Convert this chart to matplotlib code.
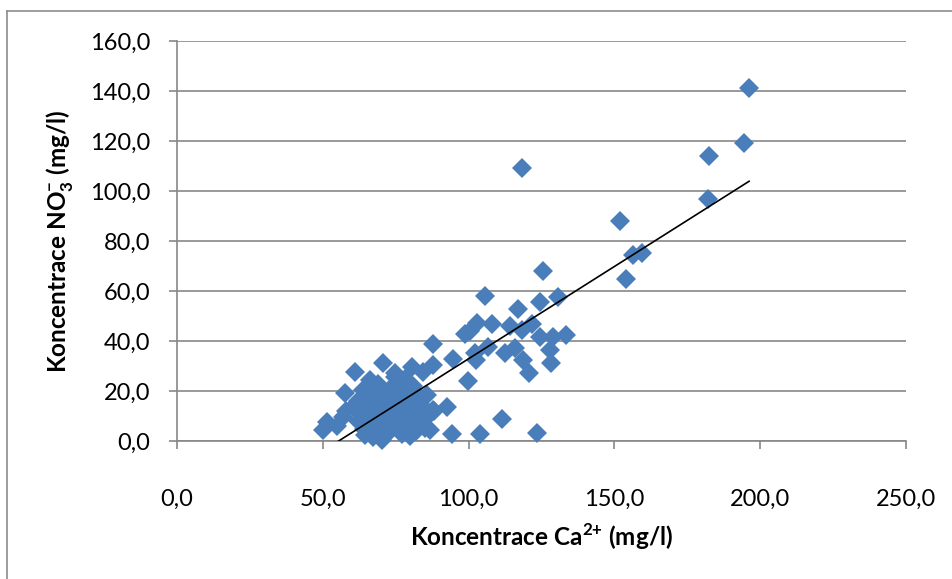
import numpy as np
import matplotlib
matplotlib.use("Agg")
import matplotlib.pyplot as plt
from matplotlib.lines import Line2D
from matplotlib.ticker import FuncFormatter, MultipleLocator

# Ca2+ vs NO3- concentrations (mg/l)
ca_high = [196.2, 194.4, 182.4, 182.1, 151.9, 156.4, 159.5, 154.0, 118.3]
no3_high = [141.2, 119.2, 114.0, 96.8, 88.0, 74.4, 75.2, 64.8, 109.4]

ca_mid = [125.5, 105.6, 130.7, 124.5, 117.0, 102.9, 108.0, 114.2, 121.7, 118.3,
          98.8, 100.5, 124.5, 128.9, 133.4, 87.8, 106.6, 102.2, 112.5, 115.9,
          127.9, 94.7, 118.7, 128.3, 102.5, 120.7, 99.8, 87.8, 80.6, 111.5,
          92.6, 94.3, 103.9, 123.5, 87.8, 85.0, 83.3]
no3_mid = [68.0, 58.0, 57.8, 55.8, 53.0, 47.4, 47.0, 46.2, 47.0, 44.6,
           43.0, 44.0, 41.8, 41.8, 42.6, 39.0, 37.8, 35.4, 35.4, 37.4,
           36.6, 33.0, 32.6, 31.4, 32.6, 27.4, 24.2, 30.6, 29.8, 9.0,
           13.8, 3.0, 3.0, 3.4, 12.6, 5.4, 17.8]

ca_low = [61.0, 70.6, 57.6, 51.4, 50.0, 74.8, 66.2, 70.3, 67.2, 64.5,
          57.0, 60.4, 63.8, 74.8, 78.2, 84.4, 84.4, 86.8, 79.9, 76.5,
          81.6, 85.7, 82.3, 55.0, 58.0, 62.0, 62.0, 63.0, 64.0, 65.0,
          65.0, 66.0, 67.0, 67.0, 68.0, 68.0, 69.0, 69.0, 70.0, 70.0,
          71.0, 71.0, 72.0, 72.0, 73.0, 73.0, 74.0, 75.0, 75.0, 76.0,
          77.0, 77.0, 78.0, 78.0, 79.0, 80.0, 80.0, 81.0, 82.0, 83.0,
          83.0, 84.0, 86.0, 88.0]
no3_low = [27.6, 31.2, 19.4, 7.8, 4.6, 27.4, 24.6, 0.6, 1.8, 2.6,
           9.8, 13.8, 20.4, 25.8, 24.8, 27.8, 12.6, 4.6, 2.0, 7.4,
           9.8, 18.6, 16.6, 6.0, 12.0, 8.0, 16.0, 11.0, 5.0, 18.0,
           14.0, 9.0, 21.0, 6.0, 13.0, 17.0, 4.0, 23.0, 10.0, 15.0,
           19.0, 2.0, 7.0, 12.0, 21.0, 4.0, 16.0, 10.0, 22.0, 13.0,
           3.0, 18.0, 8.0, 20.0, 12.0, 15.0, 6.0, 22.0, 4.0, 11.0,
           7.0, 14.0, 10.0, 12.0]

ca = np.array(ca_high + ca_mid + ca_low)
no3 = np.array(no3_high + no3_mid + no3_low)

blue = "#4A7EBB"
grid = "#878787"

plt.rcParams["font.family"] = ["Lato", "DejaVu Sans"]
plt.rcParams["mathtext.fontset"] = "custom"
plt.rcParams["mathtext.rm"] = "Lato"
plt.rcParams["mathtext.bf"] = "Lato:bold"

fig = plt.figure(figsize=(9.53, 5.79), dpi=100)
ax = fig.add_axes([0.1857, 0.2375, 0.765, 0.6915])

ax.plot(ca, no3, linestyle="none", marker="D", markersize=10.5,
        markerfacecolor=blue, markeredgewidth=0, zorder=3, clip_on=False)

# linear trend over the data range
k, q = np.polyfit(ca, no3, 1)
xs = np.array([ca.min(), ca.max()])
ax.plot(xs, k * xs + q, color="black", lw=1.2, zorder=4)

ax.set_xlim(0, 250)
ax.set_ylim(0, 160)
ax.xaxis.set_major_locator(MultipleLocator(50))
ax.yaxis.set_major_locator(MultipleLocator(20))
fmt = FuncFormatter(lambda v, p: f"{v:.1f}".replace(".", ","))
ax.xaxis.set_major_formatter(fmt)
ax.yaxis.set_major_formatter(fmt)

ax.grid(axis="y", color=grid, lw=1.2)
ax.set_axisbelow(True)
for s in ["top", "right"]:
    ax.spines[s].set_visible(False)
for s in ["left", "bottom"]:
    ax.spines[s].set_color(grid)
    ax.spines[s].set_linewidth(1.2)
ax.tick_params(axis="both", direction="out", length=6, width=1.2, color=grid,
               labelsize=17)
ax.tick_params(axis="x", pad=28)
ax.tick_params(axis="y", pad=13)

ax.set_xlabel(r"Koncentrace Ca$^{\mathbf{2{+}}}$ (mg/l)", fontsize=17.5,
              fontweight="bold")
ax.set_ylabel(r"Koncentrace NO$_{\mathbf{3}}^{\mathbf{-}}$ (mg/l)", fontsize=17.5,
              fontweight="bold")
ax.xaxis.set_label_coords(0.5, -0.2)
ax.yaxis.set_label_coords(-0.14, 0.5)

# chart area frame
fig.add_artist(Line2D([7.5 / 953, 7.5 / 953], [0, 1 - 10.5 / 579],
                      transform=fig.transFigure, color="#8C8C8C", lw=1.2))
fig.add_artist(Line2D([7.5 / 953, 1], [1 - 10.5 / 579, 1 - 10.5 / 579],
                      transform=fig.transFigure, color="#8C8C8C", lw=1.2))

fig.savefig("out.png", dpi=100)
